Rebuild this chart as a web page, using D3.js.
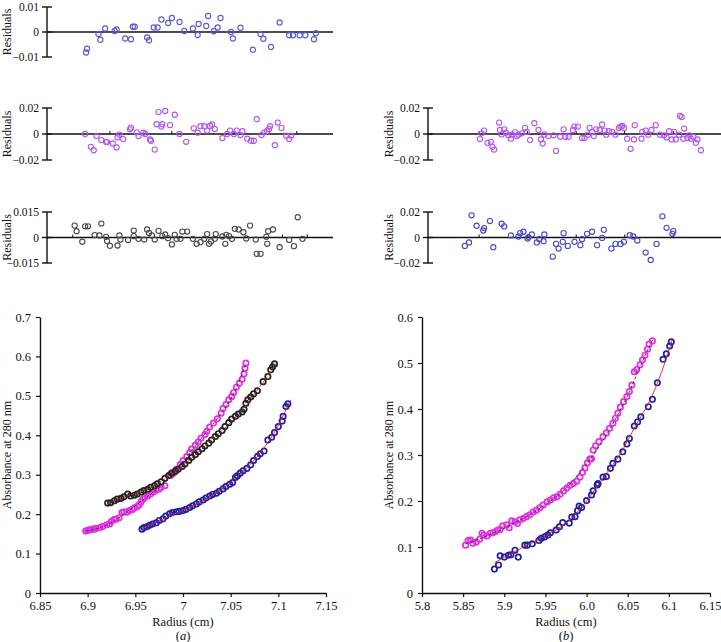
<!DOCTYPE html>
<html>
<head>
<meta charset="utf-8">
<script src="https://cdn.jsdelivr.net/npm/d3@7"></script>
<style>
body { margin: 0; background: #fff; }
text { font-family: "Liberation Serif", "Times New Roman", serif; fill: #111; }
</style>
</head>
<body>
<div id="chart"></div>
<script>
// ---- residuals, panel (a) : [radius, residual]
var resA1Blue = [[6.891,-0.0082],[6.892,-0.0067],[6.904,-0.0008],[6.906,-0.0031],[6.911,0.0014],[6.921,0.0004],[6.923,0.0010],[6.932,-0.0026],[6.938,-0.0029],[6.940,0.0021],[6.942,0.0021],[6.955,-0.0022],[6.957,-0.0033],[6.962,0.0018],[6.966,0.0018],[6.970,0.0050],[6.977,0.0036],[6.981,0.0056],[6.989,0.0040],[6.994,0.0004],[7.003,0.0014],[7.008,-0.0012],[7.009,0.0032],[7.017,0.0024],[7.019,0.0064],[7.025,0.0003],[7.029,0.0018],[7.032,0.0056],[7.043,0.0000],[7.045,-0.0026],[7.053,0.0017],[7.066,-0.0071],[7.074,-0.0008],[7.077,-0.0027],[7.085,-0.0060],[7.094,0.0038],[7.104,-0.0013],[7.108,-0.0013],[7.115,-0.0013],[7.121,-0.0013],[7.130,-0.0029],[7.132,-0.0005]];
var resA2Magenta = [[6.890,0],[6.896,-0.0099],[6.899,-0.0125],[6.902,-0.0016],[6.907,-0.0047],[6.912,-0.0060],[6.913,-0.0062],[6.919,-0.0073],[6.923,-0.0104],[6.924,-0.0026],[6.926,-0.0005],[6.930,-0.0039],[6.937,0.0036],[6.938,0.0049],[6.944,0.0013],[6.946,-0.0016],[6.951,0.0010],[6.953,0],[6.958,-0.0042],[6.959,-0.0052],[6.963,-0.0120],[6.965,0.0075],[6.967,0.0169],[6.970,0.0057],[6.971,0.0075],[6.974,0.0177],[6.979,0.0068],[6.984,0.0148],[6.989,0],[6.996,-0.0060],[7.004,0.0044],[7.008,0.0010],[7.011,0.0060],[7.015,0.0060],[7.018,0.0026],[7.021,0.0062],[7.023,0.0073],[7.026,0.0039],[7.034,-0.0031],[7.039,0],[7.042,0.0026],[7.046,0],[7.049,0.0026],[7.053,-0.0008],[7.055,0.0021],[7.060,-0.0036],[7.064,-0.0052],[7.067,-0.0052],[7.070,0.0114],[7.075,-0.0008],[7.078,0.0013],[7.081,0.0023],[7.083,0.0039],[7.084,0.0060],[7.089,-0.0086],[7.092,0.0088],[7.096,0.0047],[7.101,-0.0013],[7.104,-0.0039],[7.106,-0.0013]];
var resA3Gray = [[6.879,0.0070],[6.881,0.0037],[6.887,-0.0025],[6.890,0.0066],[6.893,0.0066],[6.900,0.0014],[6.905,0.0012],[6.907,0.0082],[6.912,0.0004],[6.913,-0.0021],[6.916,-0.0049],[6.924,-0.0047],[6.926,0.0012],[6.927,-0.0012],[6.935,-0.0014],[6.941,0.0008],[6.941,0.0041],[6.946,-0.0008],[6.952,-0.0012],[6.955,0.0047],[6.957,0.0027],[6.960,0.0012],[6.963,-0.0012],[6.967,0.0039],[6.971,0.0008],[6.974,0.0018],[6.977,-0.0004],[6.981,-0.0041],[6.984,0.0016],[6.986,-0.0008],[6.990,-0.0008],[6.992,0.0035],[6.997,0.0035],[7.003,-0.0008],[7.007,-0.0037],[7.011,-0.0027],[7.015,-0.0008],[7.018,0.0020],[7.020,-0.0037],[7.022,-0.0023],[7.026,-0.0008],[7.027,0.0020],[7.034,0.0006],[7.037,-0.0037],[7.038,0.0016],[7.041,0.0008],[7.044,-0.0008],[7.047,0.0051],[7.051,0.0047],[7.056,0.0031],[7.059,-0.0006],[7.063,0.0070],[7.069,-0.0012],[7.070,-0.0096],[7.074,-0.0096],[7.080,0.0004],[7.081,-0.0037],[7.082,0.0037],[7.087,0.0047],[7.094,-0.0057],[7.104,-0.0014],[7.109,-0.0051],[7.113,0.0119],[7.118,-0.0008]];

// ---- residuals, panel (b)
var resB1Magenta = [[5.862,-0.0039],[5.864,0.0005],[5.867,0.0026],[5.871,-0.0068],[5.875,-0.0060],[5.877,-0.0099],[5.879,-0.0120],[5.885,0.0088],[5.886,0.0031],[5.888,-0.0003],[5.891,0.0036],[5.893,0.0010],[5.896,-0.0010],[5.899,-0.0036],[5.900,-0.0005],[5.904,0.0013],[5.906,-0.0016],[5.908,-0.0005],[5.912,0.0005],[5.916,0.0047],[5.918,0.0016],[5.922,-0.0047],[5.927,0.0083],[5.932,0.0031],[5.935,-0.0042],[5.937,-0.0073],[5.939,-0.0003],[5.944,-0.0016],[5.950,-0.0010],[5.953,-0.0130],[5.958,-0.0021],[5.962,0.0036],[5.964,-0.0021],[5.968,-0.0021],[5.973,0.0031],[5.975,0.0057],[5.979,0.0057],[5.984,-0.0031],[5.987,-0.0031],[5.991,-0.0005],[5.993,0.0047],[5.996,0.0016],[5.998,-0.0016],[6.001,0.0036],[6.005,0.0031],[6.008,0.0073],[6.011,0.0026],[6.013,-0.0005],[6.016,0.0021],[6.020,0.0016],[6.024,-0.0005],[6.028,0.0047],[6.030,0.0057],[6.032,0.0062],[6.034,0.0047],[6.038,-0.0036],[6.042,-0.0114],[6.046,-0.0042],[6.047,0.0068],[6.055,-0.0036],[6.056,0.0016],[6.060,0.0026],[6.063,-0.0005],[6.067,0.0031],[6.072,0.0068],[6.077,-0.0005],[6.082,-0.0010],[6.085,-0.0026],[6.088,0.0021],[6.091,-0.0042],[6.094,0.0016],[6.096,-0.0042],[6.100,-0.0005],[6.101,0.0140],[6.103,0.0130],[6.105,-0.0036],[6.106,0.0042],[6.110,-0.0031],[6.112,-0.0010],[6.114,-0.0036],[6.117,-0.0021],[6.120,-0.0068],[6.122,-0.0042],[6.126,-0.0125]];
var resB2Blue = [[5.844,-0.0066],[5.849,-0.0039],[5.852,0.0174],[5.858,0.0092],[5.866,0.0055],[5.867,0.0074],[5.874,0.0129],[5.878,-0.0076],[5.888,0.0108],[5.891,0.0087],[5.899,0.0016],[5.908,0.0008],[5.910,0.0034],[5.914,0.0045],[5.919,-0.0008],[5.920,0.0003],[5.924,0.0024],[5.930,-0.0039],[5.933,-0.0013],[5.938,-0.0029],[5.939,0.0024],[5.949,-0.0150],[5.953,-0.0050],[5.956,-0.0087],[5.961,-0.0034],[5.962,0.0034],[5.967,-0.0066],[5.975,-0.0034],[5.982,-0.0060],[5.984,-0.0013],[5.990,0.0029],[5.996,0.0045],[6.002,-0.0060],[6.008,-0.0003],[6.010,0.0060],[6.019,-0.0087],[6.024,-0.0050],[6.030,-0.0050],[6.034,-0.0034],[6.041,0.0018],[6.045,0.0008],[6.050,-0.0024],[6.060,-0.0118],[6.066,-0.0176],[6.073,-0.0050],[6.080,0.0166],[6.085,0.0076],[6.092,0.0029],[6.093,0.0050]];

// ---- absorbance profiles : [radius (cm), absorbance at 280 nm]
var absAMagenta = [[6.898,0.157],[6.900,0.159],[6.902,0.160],[6.905,0.162],[6.907,0.162],[6.909,0.164],[6.913,0.166],[6.916,0.169],[6.920,0.173],[6.923,0.175],[6.925,0.182],[6.928,0.187],[6.930,0.187],[6.933,0.191],[6.936,0.204],[6.938,0.206],[6.941,0.205],[6.944,0.209],[6.947,0.212],[6.949,0.216],[6.952,0.219],[6.954,0.224],[6.956,0.231],[6.958,0.238],[6.960,0.243],[6.963,0.246],[6.966,0.251],[6.969,0.256],[6.972,0.261],[6.975,0.264],[6.977,0.268],[6.981,0.272],[6.987,0.298],[6.990,0.304],[6.993,0.314],[6.997,0.325],[7.000,0.336],[7.004,0.346],[7.007,0.356],[7.009,0.365],[7.013,0.375],[7.016,0.383],[7.019,0.393],[7.023,0.402],[7.025,0.410],[7.028,0.421],[7.032,0.431],[7.036,0.442],[7.040,0.456],[7.042,0.468],[7.045,0.478],[7.048,0.490],[7.051,0.498],[7.053,0.508],[7.056,0.522],[7.059,0.532],[7.062,0.542],[7.064,0.556],[7.065,0.570],[7.066,0.583]];
var absABlack = [[6.921,0.228],[6.924,0.229],[6.928,0.234],[6.931,0.238],[6.935,0.240],[6.938,0.244],[6.942,0.251],[6.945,0.246],[6.949,0.248],[6.952,0.251],[6.956,0.256],[6.959,0.260],[6.963,0.263],[6.966,0.268],[6.970,0.272],[6.973,0.277],[6.977,0.282],[6.981,0.291],[6.985,0.298],[6.988,0.304],[6.992,0.309],[6.995,0.314],[6.999,0.321],[7.002,0.327],[7.006,0.336],[7.009,0.344],[7.013,0.351],[7.016,0.358],[7.020,0.366],[7.023,0.373],[7.027,0.380],[7.030,0.388],[7.034,0.397],[7.037,0.404],[7.041,0.412],[7.044,0.422],[7.048,0.432],[7.051,0.441],[7.055,0.448],[7.058,0.454],[7.062,0.459],[7.064,0.466],[7.066,0.481],[7.068,0.490],[7.071,0.497],[7.074,0.505],[7.078,0.513],[7.084,0.536],[7.089,0.549],[7.092,0.566],[7.094,0.574],[7.096,0.581]];
var absABlue = [[6.957,0.162],[6.959,0.166],[6.962,0.168],[6.965,0.172],[6.968,0.175],[6.972,0.178],[6.975,0.184],[6.979,0.188],[6.982,0.195],[6.986,0.201],[6.989,0.204],[6.993,0.206],[6.996,0.207],[7.000,0.209],[7.003,0.212],[7.007,0.217],[7.010,0.221],[7.014,0.226],[7.017,0.231],[7.021,0.236],[7.024,0.241],[7.028,0.246],[7.031,0.250],[7.035,0.253],[7.038,0.258],[7.042,0.264],[7.045,0.270],[7.049,0.276],[7.052,0.280],[7.055,0.293],[7.057,0.297],[7.060,0.304],[7.063,0.310],[7.067,0.316],[7.071,0.325],[7.074,0.336],[7.078,0.346],[7.081,0.353],[7.085,0.360],[7.089,0.388],[7.093,0.395],[7.096,0.407],[7.100,0.422],[7.104,0.436],[7.105,0.448],[7.108,0.473],[7.110,0.480]];
var absBMagenta = [[5.853,0.104],[5.856,0.114],[5.859,0.115],[5.862,0.108],[5.866,0.111],[5.870,0.117],[5.873,0.130],[5.875,0.126],[5.879,0.124],[5.883,0.130],[5.886,0.131],[5.889,0.133],[5.892,0.137],[5.895,0.138],[5.898,0.146],[5.903,0.148],[5.906,0.142],[5.909,0.157],[5.913,0.155],[5.916,0.151],[5.919,0.159],[5.923,0.162],[5.927,0.166],[5.931,0.170],[5.935,0.176],[5.939,0.180],[5.943,0.185],[5.947,0.191],[5.952,0.198],[5.956,0.202],[5.960,0.207],[5.964,0.209],[5.968,0.215],[5.972,0.222],[5.976,0.228],[5.980,0.234],[5.984,0.238],[5.988,0.243],[5.992,0.252],[5.995,0.262],[5.998,0.272],[6.001,0.283],[6.004,0.291],[6.006,0.292],[6.008,0.311],[6.011,0.320],[6.015,0.329],[6.020,0.340],[6.024,0.348],[6.028,0.358],[6.032,0.369],[6.035,0.380],[6.038,0.391],[6.041,0.404],[6.045,0.416],[6.049,0.427],[6.052,0.438],[6.055,0.452],[6.058,0.481],[6.061,0.486],[6.065,0.496],[6.068,0.507],[6.071,0.517],[6.074,0.530],[6.076,0.541],[6.080,0.548]];
var absBBlue = [[5.888,0.052],[5.893,0.061],[5.895,0.081],[5.900,0.078],[5.905,0.082],[5.908,0.083],[5.913,0.093],[5.917,0.078],[5.925,0.104],[5.928,0.104],[5.934,0.107],[5.942,0.114],[5.945,0.119],[5.949,0.122],[5.953,0.126],[5.956,0.131],[5.963,0.137],[5.967,0.144],[5.971,0.153],[5.979,0.152],[5.982,0.165],[5.986,0.166],[5.989,0.179],[5.991,0.189],[5.994,0.186],[6.000,0.201],[6.006,0.213],[6.008,0.222],[6.013,0.235],[6.014,0.238],[6.020,0.252],[6.024,0.253],[6.029,0.271],[6.032,0.282],[6.038,0.291],[6.044,0.307],[6.049,0.324],[6.052,0.336],[6.058,0.363],[6.062,0.372],[6.066,0.383],[6.075,0.405],[6.080,0.421],[6.086,0.457],[6.093,0.508],[6.097,0.520],[6.101,0.537],[6.103,0.546]];

// ---- fitted curves
var fitAMagenta = [[6.898,0.157],[6.92,0.172],[6.94,0.203],[6.96,0.240],[6.98,0.277],[7.0,0.332],[7.02,0.395],[7.04,0.456],[7.055,0.515],[7.066,0.583]];
var fitABlack = [[6.921,0.229],[6.94,0.245],[6.96,0.261],[6.98,0.288],[7.0,0.323],[7.02,0.366],[7.04,0.410],[7.06,0.458],[7.075,0.505],[7.09,0.555],[7.097,0.582]];
var fitABlue = [[6.957,0.163],[6.975,0.183],[6.995,0.205],[7.015,0.226],[7.035,0.254],[7.055,0.291],[7.075,0.338],[7.09,0.385],[7.1,0.425],[7.108,0.465],[7.113,0.490]];
var fitBMagenta = [[5.853,0.107],[5.88,0.125],[5.91,0.150],[5.94,0.180],[5.97,0.220],[6.0,0.280],[6.03,0.362],[6.05,0.430],[6.07,0.512],[6.08,0.550]];
var fitBBlue = [[5.888,0.066],[5.92,0.097],[5.95,0.124],[5.98,0.160],[6.0,0.200],[6.02,0.250],[6.04,0.300],[6.06,0.365],[6.08,0.430],[6.095,0.500],[6.104,0.550]];

// ---- ticks
var xTicksA = [6.85, 6.9, 6.95, 7, 7.05, 7.1, 7.15];
var xLabelsA = ["6.85", "6.9", "6.95", "7", "7.05", "7.1", "7.15"];
var yTicksA = [0, 0.1, 0.2, 0.3, 0.4, 0.5, 0.6, 0.7];
var xTicksB = [5.8, 5.85, 5.9, 5.95, 6.0, 6.05, 6.1, 6.15];
var xLabelsB = ["5.8", "5.85", "5.9", "5.95", "6.0", "6.05", "6.1", "6.15"];
var yTicksB = [0, 0.1, 0.2, 0.3, 0.4, 0.5, 0.6];

var W = 721, H = 642;
var svg = d3.select("#chart").append("svg")
    .attr("width", W).attr("height", H)
    .style("background", "#fff");

function fmt(v) {
    if (v === 0) return "0";
    var s = String(Math.abs(v));
    return (v < 0 ? "\u2212" : "") + s;
}

function vlabel(x, y, txt, size) {
    svg.append("text")
        .attr("transform", "translate(" + x + "," + y + ") rotate(-90)")
        .attr("text-anchor", "middle")
        .attr("dy", "0.35em")
        .style("font-size", size + "px")
        .text(txt);
}

// residual strip
function residual(o) {
    var x = d3.scaleLinear().domain(o.xdom).range([o.left, o.right]);
    var y = d3.scaleLinear().domain([-o.lim, o.lim]).range([o.bottom, o.top]);
    var g = svg.append("g");

    g.append("line")
        .attr("x1", o.left).attr("x2", o.left)
        .attr("y1", y(o.lim)).attr("y2", y(-o.lim))
        .attr("stroke", "#111").attr("stroke-width", 1.4);
    [o.lim, 0, -o.lim].forEach(function(t) {
        g.append("line")
            .attr("x1", o.left - 5).attr("x2", o.left + 5)
            .attr("y1", y(t)).attr("y2", y(t))
            .attr("stroke", "#111").attr("stroke-width", 1.4);
        g.append("text")
            .attr("x", o.left - 8).attr("y", y(t))
            .attr("dy", "0.35em").attr("text-anchor", "end")
            .style("font-size", "11.5px")
            .text(fmt(t));
    });
    g.append("line")
        .attr("x1", o.left).attr("x2", o.right)
        .attr("y1", y(0)).attr("y2", y(0))
        .attr("stroke", "#111").attr("stroke-width", 1.3);
    (o.zticks || []).forEach(function(t) {
        g.append("line")
            .attr("x1", x(t)).attr("x2", x(t))
            .attr("y1", y(0) - 3).attr("y2", y(0))
            .attr("stroke", "#111").attr("stroke-width", 1);
    });

    g.selectAll("circle.r")
        .data(o.data)
        .enter()
        .append("circle")
        .attr("cx", function(d) { return x(d[0]); })
        .attr("cy", function(d) { return y(d[1]); })
        .attr("r", 2.6)
        .attr("fill", "none")
        .attr("stroke", o.color)
        .attr("stroke-width", 1.1);

    vlabel(o.labelX, y(0), "Residuals", 12);
}

residual({ data: resA1Blue, color: "#5a5ad6", xdom: [6.85, 7.15], left: 47, right: 333, top: 7, bottom: 57, lim: 0.01, labelX: 7 });
residual({ data: resA2Magenta, color: "#b455ee", xdom: [6.85, 7.15], left: 47, right: 333, top: 108, bottom: 160, lim: 0.02, labelX: 7,
           zticks: [6.916, 6.981, 7.046, 7.112] });
residual({ data: resA3Gray, color: "#4a4a4a", xdom: [6.85, 7.15], left: 47, right: 333, top: 212, bottom: 263, lim: 0.015, labelX: 7,
           zticks: [6.877, 7.097, 7.123] });
residual({ data: resB1Magenta, color: "#b455ee", xdom: [5.8, 6.15], left: 428, right: 721, top: 108, bottom: 160, lim: 0.02, labelX: 389,
           zticks: [5.861, 5.919, 5.977, 6.035, 6.093] });
residual({ data: resB2Blue, color: "#4848c8", xdom: [5.8, 6.15], left: 428, right: 721, top: 212, bottom: 263, lim: 0.02, labelX: 389,
           zticks: [5.861, 5.919, 5.977, 6.035, 6.093] });

// absorbance panel
function mainPanel(o) {
    var x = d3.scaleLinear().domain(o.xdom).range([o.left, o.right]);
    var y = d3.scaleLinear().domain(o.ydom).range([o.bottom, o.top]);
    var g = svg.append("g");

    var xa = g.append("g")
        .attr("transform", "translate(0," + o.bottom + ")")
        .call(d3.axisBottom(x).tickValues(o.xticks)
            .tickFormat(function(d, i) { return o.xlabels[i]; })
            .tickSizeOuter(0).tickSizeInner(4).tickPadding(4));
    var ya = g.append("g")
        .attr("transform", "translate(" + o.left + ",0)")
        .call(d3.axisLeft(y).tickValues(o.yticks)
            .tickFormat(function(d) { return String(d); })
            .tickSizeOuter(0).tickSizeInner(4).tickPadding(5));
    [xa, ya].forEach(function(a) {
        a.select(".domain").attr("stroke", "#111").attr("stroke-width", 1.4);
        a.selectAll(".tick line").attr("stroke", "#111").attr("stroke-width", 1.2);
        a.selectAll(".tick text")
            .style("font-family", '"Liberation Serif", "Times New Roman", serif')
            .style("font-size", "12.5px").attr("fill", "#111");
    });

    o.series.forEach(function(s) {
        g.append("g").selectAll("circle")
            .data(s.data)
            .enter()
            .append("circle")
            .attr("cx", function(d) { return x(d[0]); })
            .attr("cy", function(d) { return y(d[1]); })
            .attr("r", 2.7)
            .attr("fill", "none")
            .attr("stroke", s.color)
            .attr("stroke-width", 1.7);
    });
    var line = d3.line()
        .x(function(d) { return x(d[0]); })
        .y(function(d) { return y(d[1]); })
        .curve(d3.curveMonotoneX);
    o.fits.forEach(function(f) {
        g.append("path")
            .datum(f.data)
            .attr("d", line)
            .attr("fill", "none")
            .attr("stroke", f.color)
            .attr("stroke-width", 0.9)
            .attr("stroke-dasharray", f.dash || null);
    });

    var cx = (o.left + o.right) / 2;
    g.append("text").attr("x", cx).attr("y", 626)
        .attr("text-anchor", "middle").style("font-size", "12.5px")
        .text("Radius (cm)");
    var t = g.append("text").attr("x", cx).attr("y", 640)
        .attr("text-anchor", "middle").style("font-size", "12.5px");
    t.append("tspan").text("(");
    t.append("tspan").style("font-style", "italic").text(o.tag);
    t.append("tspan").text(")");

    vlabel(o.labelX, (o.top + o.bottom) / 2, "Absorbance at 280 nm", 12);
}

mainPanel({
    xdom: [6.85, 7.15], ydom: [0, 0.7], left: 40, right: 326, top: 317, bottom: 593,
    xticks: xTicksA, xlabels: xLabelsA, yticks: yTicksA, tag: "a", labelX: 7,
    series: [
        { data: absAMagenta, color: "#e22ee2" },
        { data: absABlack, color: "#222222" },
        { data: absABlue, color: "#1f1fa6" }
    ],
    fits: [
        { data: fitAMagenta, color: "#333", dash: "3,2" },
        { data: fitABlack, color: "#e02020", dash: "3,2" },
        { data: fitABlue, color: "#e02020" }
    ]
});

mainPanel({
    xdom: [5.8, 6.15], ydom: [0, 0.6], left: 422, right: 710, top: 317, bottom: 593,
    xticks: xTicksB, xlabels: xLabelsB, yticks: yTicksB, tag: "b", labelX: 389,
    series: [
        { data: absBMagenta, color: "#e22ee2" },
        { data: absBBlue, color: "#1f1fa6" }
    ],
    fits: [
        { data: fitBMagenta, color: "#333", dash: "3,2" },
        { data: fitBBlue, color: "#e02020" }
    ]
});
</script>
</body>
</html>
